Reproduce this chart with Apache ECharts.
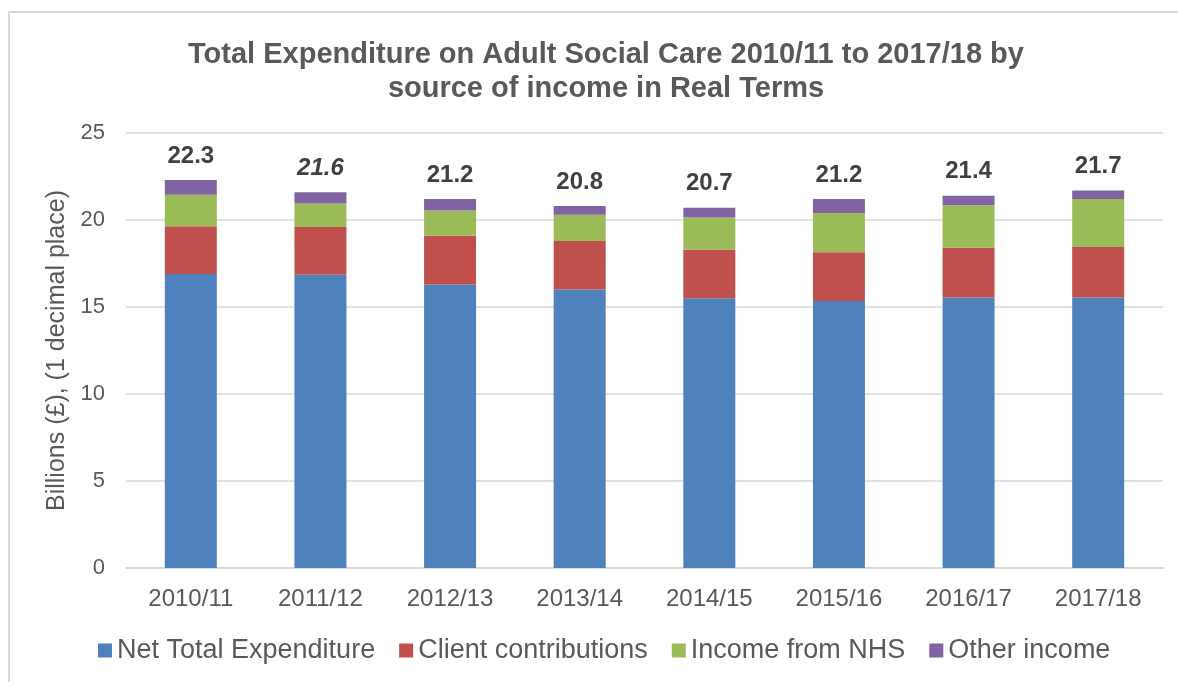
<!DOCTYPE html>
<html>
<head>
<meta charset="utf-8">
<script src="https://cdn.jsdelivr.net/npm/echarts@6/dist/echarts.min.js"></script>
<style>
  html, body { margin: 0; padding: 0; background: #fff; }
  #chart { width: 1178px; height: 682px; }
</style>
</head>
<body>
<div id="chart"></div>
<script>
// data (billions, real terms)
const years = ['2010/11', '2011/12', '2012/13', '2013/14', '2014/15', '2015/16', '2016/17', '2017/18'];
const netTotal = [16.9, 16.85, 16.3, 16.0, 15.5, 15.35, 15.55, 15.55];
const clientContrib = [2.74, 2.75, 2.8, 2.8, 2.8, 2.8, 2.85, 2.9];
const nhsIncome = [1.81, 1.35, 1.45, 1.5, 1.85, 2.25, 2.45, 2.75];
const otherIncome = [0.85, 0.65, 0.65, 0.5, 0.55, 0.8, 0.55, 0.5];
const totals = ['22.3', '21.6', '21.2', '20.8', '20.7', '21.2', '21.4', '21.7'];
const italicLabels = [false, true, false, false, false, false, false, false];

const font = '"Liberation Sans", Arial, sans-serif';
const grey = '#595959';

const chart = echarts.init(document.getElementById('chart'), null, { renderer: 'canvas' });

const seriesDefs = [
  { name: 'Net Total Expenditure', data: netTotal, color: '#4F81BD' },
  { name: 'Client contributions', data: clientContrib, color: '#C0504D' },
  { name: 'Income from NHS', data: nhsIncome, color: '#9BBB59' },
  { name: 'Other income', data: otherIncome, color: '#8064A2' }
];

const series = seriesDefs.map((s, idx) => {
  const last = idx === seriesDefs.length - 1;
  return {
    name: s.name,
    type: 'bar',
    stack: 'total',
    barWidth: 52,
    itemStyle: { color: s.color },
    data: last
      ? s.data.map((v, i) => ({
          value: v,
          label: { fontStyle: italicLabels[i] ? 'italic' : 'normal' }
        }))
      : s.data,
    label: last
      ? {
          show: true,
          position: 'top',
          distance: 12,
          formatter: p => totals[p.dataIndex],
          fontFamily: font,
          fontSize: 24,
          fontWeight: 'bold',
          color: '#404040'
        }
      : { show: false }
  };
});

chart.setOption({
  animation: false,
  graphic: [
    {
      type: 'rect',
      shape: { x: 9, y: 12, width: 1200, height: 700 },
      style: { fill: 'none', stroke: '#d9d9d9', lineWidth: 2 },
      silent: true
    }
  ],
  title: {
    text: 'Total Expenditure on Adult Social Care 2010/11 to 2017/18 by\nsource of income in Real Terms',
    left: 601,
    top: 33,
    textAlign: 'center',
    textStyle: {
      fontFamily: font,
      fontSize: 29,
      fontWeight: 'bold',
      color: grey,
      lineHeight: 34,
      align: 'center'
    }
  },
  legend: {
    bottom: 13,
    left: 93,
    itemWidth: 14,
    itemHeight: 14,
    itemGap: 24,
    icon: 'rect',
    textStyle: { fontFamily: font, fontSize: 27, color: grey, padding: [0, 0, 0, 0] }
  },
  grid: {
    left: 126,
    right: 15,
    top: 133,
    bottom: 114
  },
  xAxis: {
    type: 'category',
    data: years,
    axisLine: { lineStyle: { color: '#d9d9d9', width: 2 } },
    axisTick: { show: false },
    axisLabel: { fontFamily: font, fontSize: 24, color: grey, margin: 19 }
  },
  yAxis: {
    type: 'value',
    min: 0,
    max: 25,
    interval: 5,
    name: 'Billions (£), (1 decimal place)',
    nameLocation: 'middle',
    nameGap: 54,
    nameTextStyle: { fontFamily: font, fontSize: 25, color: grey },
    axisLine: { show: false },
    axisTick: { show: false },
    splitLine: { lineStyle: { color: '#d9d9d9', width: 1.5 } },
    axisLabel: { fontFamily: font, fontSize: 22, color: grey, margin: 21 }
  },
  series: series
});
</script>
</body>
</html>
